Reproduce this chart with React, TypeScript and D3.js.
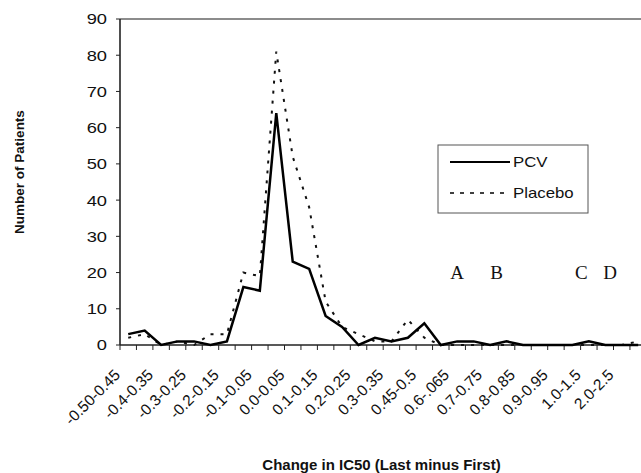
import React from "react";
import * as d3 from "d3";

const categories = [
  "-0.50-0.45", "-0.45-0.4", "-0.4-0.35", "-0.35-0.3", "-0.3-0.25", "-0.25-0.2",
  "-0.2-0.15", "-0.15-0.1", "-0.1-0.05", "-0.05-0.0", "0.0-0.05", "0.05-0.1",
  "0.1-0.15", "0.15-0.2", "0.2-0.25", "0.25-0.3", "0.3-0.35", "0.35-0.45",
  "0.45-0.5", "0.5-0.6", "0.6-.065", "0.65-0.7", "0.7-0.75", "0.75-0.8",
  "0.8-0.85", "0.85-0.9", "0.9-0.95", "0.95-1.0", "1.0-1.5", "1.5-2.0",
  "2.0-2.5", ">2.5",
];
const pcv = [3, 4, 0, 1, 1, 0, 1, 16, 15, 64, 23, 21, 8, 5, 0, 2, 1, 2, 6, 0, 1, 1, 0, 1, 0, 0, 0, 0, 1, 0, 0, 0];
const placebo = [2, 3, 0, 1, 0, 3, 3, 20, 19, 81, 52, 38, 12, 5, 3, 1, 1, 7, 2, 0, 0, 0, 0, 0, 0, 0, 0, 0, 0, 0, 0, 1];
const yTicks = [0, 10, 20, 30, 40, 50, 60, 70, 80, 90];
const letterNotes = ["A", "B", "C", "D"];
const letterAt = [20.5, 22.9, 28.05, 29.8];

const W = 641;
const H = 473;
const left = 120;
const step = 16.45;
const top = 19;
const bottom = 345;

export default function App() {
  const x = d3.scaleBand<string>().domain(categories).range([left, left + step * categories.length]).padding(0);
  const y = d3.scaleLinear().domain([0, 90]).range([bottom, top]);
  const cx = (c: string) => (x(c) as number) + x.bandwidth() / 2;

  const line = d3
    .line<number>()
    .x((_, i) => cx(categories[i]))
    .y((d) => y(d));

  const xr = left + step * categories.length;
  const font = "'Liberation Sans', Arial, Helvetica, sans-serif";
  const letterX = d3.scaleLinear().domain([0, categories.length]).range([left, xr]);

  return (
    <svg width={W} height={H} style={{ position: "absolute", left: 0, top: 0, background: "#fff" }} fontFamily={font}>
      {/* frame top */}
      <line x1={left} x2={xr} y1={top} y2={top} stroke="#666" strokeWidth={1.5} />
      {/* y axis */}
      <line x1={left} x2={left} y1={top} y2={bottom} stroke="#222" strokeWidth={1.6} />
      {yTicks.map((t) => (
        <g key={t}>
          <line x1={left - 4} x2={left} y1={y(t)} y2={y(t)} stroke="#222" strokeWidth={1} />
          <text
            transform={`translate(107,${y(t)}) scale(1.22,1)`}
            textAnchor="end"
            dy="0.36em"
            fontSize={15}
            fill="#111"
          >
            {t}
          </text>
        </g>
      ))}
      {/* x axis */}
      <line x1={left} x2={xr} y1={bottom} y2={bottom} stroke="#222" strokeWidth={1.6} />
      {categories.map((c, i) => (
        <line key={"t" + i} x1={x(c) as number} x2={x(c) as number} y1={bottom} y2={bottom + 5} stroke="#222" strokeWidth={1} />
      ))}
      {categories.map((c, i) =>
        i % 2 === 0 ? (
          <text
            key={"l" + i}
            transform={`translate(${cx(c) - 7},376) rotate(-45)`}
            textAnchor="end"
            fontSize={15.5}
            fill="#111"
          >
            {c}
          </text>
        ) : null
      )}
      {/* lines */}
      <path d={line(placebo) || ""} fill="none" stroke="#111" strokeWidth={2} strokeDasharray="3 7" />
      <path d={line(pcv) || ""} fill="none" stroke="#000" strokeWidth={2.5} strokeLinejoin="miter" />
      {/* legend */}
      <rect x={438} y={145} width={150} height={68} fill="#fff" stroke="#555" strokeWidth={1} />
      <line x1={450} x2={510} y1={162} y2={162} stroke="#000" strokeWidth={2} />
      <line x1={450} x2={510} y1={193} y2={193} stroke="#000" strokeWidth={1.6} strokeDasharray="4 6" />
      <text transform="translate(513,167) scale(1.2,1)" fontSize={14} fill="#111">PCV</text>
      <text transform="translate(513,198) scale(1.2,1)" fontSize={14} fill="#111">Placebo</text>
      {/* letters */}
      {letterNotes.map((l, i) => (
        <text key={l} x={letterX(letterAt[i])} y={279} textAnchor="middle" fontSize={19} fontFamily="'Liberation Serif', 'Times New Roman', serif" fill="#111">
          {l}
        </text>
      ))}
      {/* axis titles */}
      <text transform="translate(24,172) rotate(-90)" textAnchor="middle" fontSize={13.5} fontWeight="bold" fill="#111">
        Number of Patients
      </text>
      <text x={381.5} y={470} textAnchor="middle" fontSize={15} fontWeight="bold" fill="#111">
        Change in IC50 (Last minus First)
      </text>
    </svg>
  );
}
